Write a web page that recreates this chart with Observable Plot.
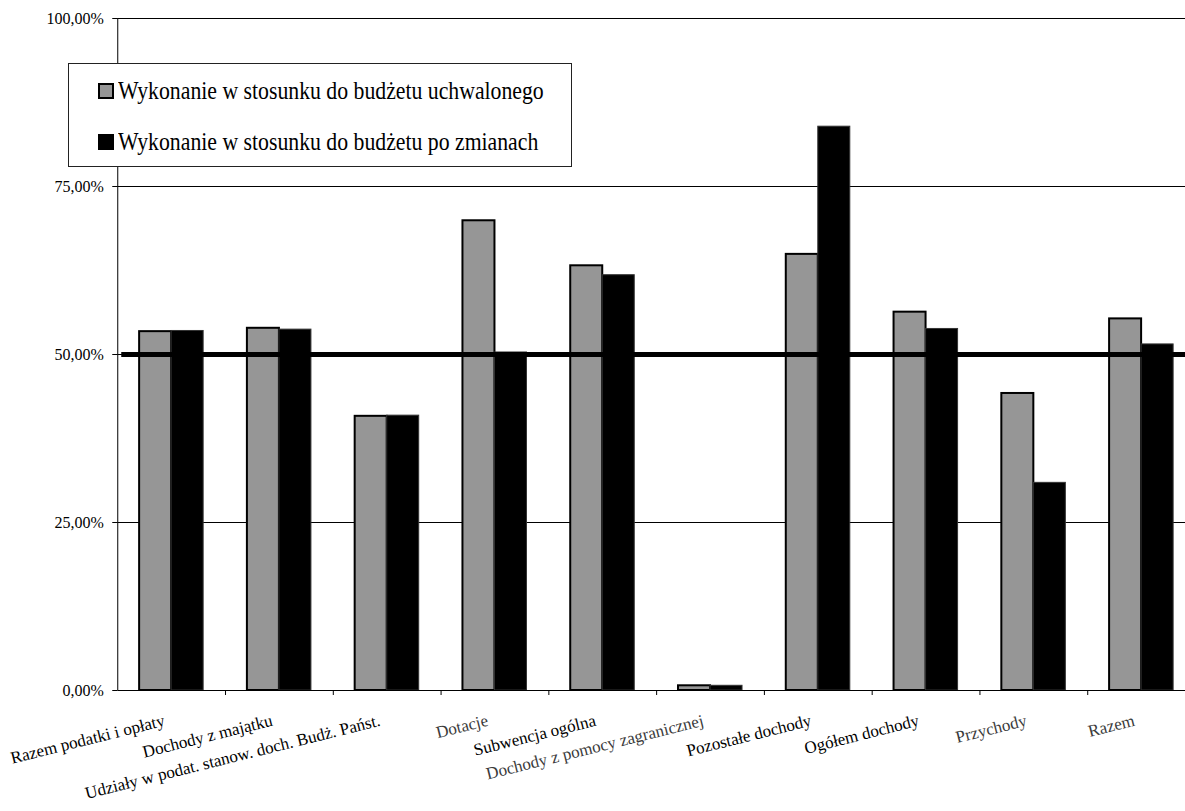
<!DOCTYPE html>
<html>
<head>
<meta charset="utf-8">
<script src="https://cdn.jsdelivr.net/npm/d3@7"></script>
<script src="https://cdn.jsdelivr.net/npm/@observablehq/plot@0.6"></script>
<style>
  html, body { margin: 0; padding: 0; background: #fff; overflow: hidden; }
  #wrap { position: relative; width: 1195px; height: 811px; overflow: hidden; }
  #wrap svg { max-width: none !important; display: block; }
  #wrap svg text { font-family: "Liberation Serif", serif !important; }
  #legend {
    position: absolute; left: 68px; top: 63px; width: 502px; height: 102px;
    background: #fff; border: 1px solid #222;
    font-family: "Liberation Serif", serif; font-size: 25px; color: #000;
  }
  .row { position: absolute; left: 29px; height: 26px; display: flex; align-items: center; line-height: 26px; white-space: nowrap; }
  .sw { width: 16px; height: 16px; box-sizing: border-box; margin-right: 4px; flex: none; }
  .lt { display: inline-block; transform: scaleX(0.87); transform-origin: left center; }
</style>
</head>
<body>
<div id="wrap"></div>
<script>
// ---- data ----
const categories = [
  "Razem podatki i opłaty",
  "Dochody z majątku",
  "Udziały w podat. stanow. doch. Budż. Państ.",
  "Dotacje",
  "Subwencja ogólna",
  "Dochody z pomocy zagranicznej",
  "Pozostałe dochody",
  "Ogółem dochody",
  "Przychody",
  "Razem"
];
const seriesNames = [
  "Wykonanie w stosunku do budżetu uchwalonego",
  "Wykonanie w stosunku do budżetu po zmianach"
];
const uchwalony  = [53.4, 53.9, 40.8, 69.9, 63.2, 0.7, 64.9, 56.3, 44.2, 55.3];
const poZmianach = [53.5, 53.7, 40.9, 50.3, 61.8, 0.7, 83.9, 53.8, 30.9, 51.5];
const yTicks = [0, 25, 50, 75, 100];
const threshold = [50];

// ---- styles ----
const serif = "Liberation Serif";
const greyFill = "#969696";
const greyLabels = new Set(["Dotacje", "Dochody z pomocy zagranicznej", "Przychody", "Razem"]);
const half = 0.297; // bar width as a fraction of the category step

const rows = [];
categories.forEach((c, i) => {
  rows.push({cat: c, i, s: 0, v: uchwalony[i]});
  rows.push({cat: c, i, s: 1, v: poZmianach[i]});
});
const boundaries = categories.map((_, i) => i + 1);
const fmt = d => d.toFixed(2).replace(".", ",") + "%";

const labelOpts = {
  x: (d, i) => i + 0.5,
  y: 0,
  rotate: -14,
  textAnchor: "end",
  lineAnchor: "bottom",
  dx: -6,
  dy: 35,
  fontSize: 17,
  fontFamily: serif
};

const chart = Plot.plot({
  width: 1195,
  height: 811,
  marginLeft: 117.25,
  marginRight: 0,
  marginTop: 18,
  marginBottom: 121,
  style: {fontFamily: serif, fontSize: "15px", color: "#000", background: "transparent", overflow: "visible"},
  x: {type: "linear", domain: [0, categories.length], axis: null},
  y: {domain: [0, 100], axis: null},
  marks: [
    Plot.gridY(yTicks.slice(1), {stroke: "#000", strokeOpacity: 1, strokeWidth: 1}),
    Plot.rectY(rows.filter(d => d.s === 0), {
      x1: d => d.i + 0.5 - half, x2: d => d.i + 0.5, y: "v",
      fill: greyFill, stroke: "#000", strokeWidth: 2
    }),
    Plot.rectY(rows.filter(d => d.s === 1), {
      x1: d => d.i + 0.5, x2: d => d.i + 0.5 + half, y: "v",
      fill: "#000", stroke: "#333", strokeWidth: 1
    }),
    Plot.ruleY(threshold, {stroke: "#000", strokeWidth: 5, insetLeft: 4}),
    Plot.ruleY([0], {stroke: "#000", strokeWidth: 1}),
    Plot.ruleX([0], {stroke: "#000", strokeWidth: 1}),
    Plot.axisY(yTicks, {tickSize: 5, tickPadding: 9, tickFormat: fmt, fontSize: 16, fontFamily: serif, stroke: "#000", label: null}),
    Plot.axisX(boundaries, {tickSize: 5, tickFormat: () => "", stroke: "#000", label: null}),
    Plot.text(categories, {...labelOpts, filter: d => !greyLabels.has(d), fill: "#000"}),
    Plot.text(categories, {...labelOpts, filter: d => greyLabels.has(d), fill: "#3a3a3a"})
  ]
});

const wrap = document.getElementById("wrap");
wrap.appendChild(chart);

// legend (HTML, drawn over the plot like in the original)
const legend = document.createElement("div");
legend.id = "legend";
const swatchStyles = [
  `background:${greyFill};border:2px solid #000;`,
  `background:#000;`
];
seriesNames.forEach((name, k) => {
  const row = document.createElement("div");
  row.className = "row";
  row.style.top = (k === 0 ? 14 : 65) + "px";
  const sw = document.createElement("span");
  sw.className = "sw";
  sw.setAttribute("style", swatchStyles[k]);
  const t = document.createElement("span");
  t.className = "lt";
  t.textContent = name;
  row.appendChild(sw);
  row.appendChild(t);
  legend.appendChild(row);
});
wrap.appendChild(legend);
</script>
</body>
</html>
